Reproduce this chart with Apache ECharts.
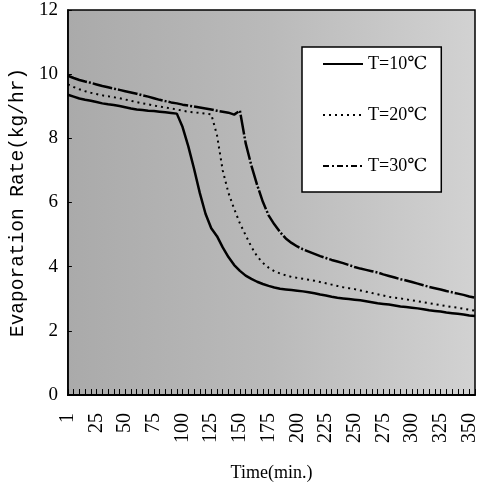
<!DOCTYPE html>
<html>
<head>
<meta charset="utf-8">
<script src="https://cdn.jsdelivr.net/npm/echarts@6/dist/echarts.min.js"></script>
<style>
html,body{margin:0;padding:0;background:#fff;}
#chart{width:481px;height:487px;}
</style>
</head>
<body>
<div id="chart"></div>
<script>
// Time categories (min.)
const minutes = ['1','5','10','15','20','25','30','35','40','45',
  '50','55','60','65','70','75','80','85','90','95',
  '100','105','110','115','120','125','130','135','140','145',
  '150','155','160','165','170','175','180','185','190','195',
  '200','205','210','215','220','225','230','235','240','245',
  '250','255','260','265','270','275','280','285','290','295',
  '300','305','310','315','320','325','330','335','340','345',
  '350','355'];

const seriesNames = ['T=10℃', 'T=20℃', 'T=30℃'];

// T=10℃ (lowest curve)
const t10 = [9.36,9.30,9.24,9.20,9.17,9.13,9.09,9.06,9.04,9.01,
  8.97,8.93,8.90,8.88,8.86,8.85,8.83,8.81,8.79,8.77,
  8.35,7.75,7.05,6.30,5.65,5.20,4.95,4.60,4.30,4.05,
  3.87,3.72,3.62,3.53,3.46,3.40,3.35,3.31,3.29,3.27,
  3.25,3.23,3.20,3.17,3.13,3.10,3.06,3.03,3.01,2.99,
  2.97,2.95,2.92,2.89,2.86,2.84,2.82,2.79,2.76,2.74,
  2.72,2.70,2.67,2.64,2.62,2.60,2.57,2.55,2.53,2.51,
  2.48,2.46];

// T=20℃ (dotted, middle curve)
const t20 = [9.68,9.60,9.53,9.47,9.42,9.38,9.34,9.31,9.28,9.25,
  9.21,9.17,9.13,9.09,9.06,9.02,8.99,8.96,8.93,8.90,
  8.86,8.83,8.81,8.79,8.77,8.75,8.10,7.00,6.30,5.80,
  5.35,4.98,4.62,4.32,4.12,3.97,3.86,3.79,3.73,3.68,
  3.65,3.62,3.59,3.56,3.52,3.48,3.44,3.40,3.36,3.33,
  3.30,3.26,3.22,3.18,3.14,3.10,3.06,3.03,3.01,2.98,
  2.95,2.92,2.89,2.86,2.83,2.80,2.77,2.74,2.72,2.69,
  2.66,2.63];

// T=30℃ (upper curve)
const t30 = [9.95,9.88,9.82,9.77,9.73,9.68,9.63,9.59,9.55,9.51,
  9.47,9.43,9.39,9.34,9.30,9.25,9.20,9.16,9.12,9.09,
  9.05,9.02,8.99,8.96,8.93,8.90,8.86,8.83,8.80,8.74,
  8.86,7.85,7.15,6.55,6.02,5.60,5.32,5.08,4.88,4.74,
  4.63,4.54,4.47,4.40,4.33,4.27,4.21,4.16,4.11,4.05,
  3.99,3.94,3.90,3.86,3.82,3.76,3.71,3.66,3.61,3.57,
  3.52,3.47,3.42,3.37,3.33,3.29,3.24,3.20,3.16,3.12,
  3.07,3.03];

const yTicks = {min: 0, max: 12, interval: 2};

const serif = '"Liberation Serif", "DejaVu Serif", serif';
const chart = echarts.init(document.getElementById('chart'), null, {renderer: 'canvas'});

chart.setOption({
  animation: false,
  backgroundColor: '#ffffff',
  grid: {
    left: 63, right: 6, top: 10, bottom: 86,
    show: true,
    borderColor: '#000', borderWidth: 1.5,
    backgroundColor: {
      type: 'linear', x: 0, y: 0, x2: 1, y2: 0,
      colorStops: [
        {offset: 0, color: '#aaaaaa'},
        {offset: 0.5, color: '#bababa'},
        {offset: 1, color: '#d2d2d2'}
      ]
    }
  },
  legend: {
    left: 302, top: 47,
    orient: 'vertical',
    itemWidth: 40, itemHeight: 14, itemGap: 33,
    padding: [8, 14, 17, 20],
    backgroundColor: '#fff',
    borderColor: '#000', borderWidth: 1.5, borderRadius: 0,
    itemStyle: {opacity: 0, borderWidth: 0},
    textStyle: {fontFamily: serif, fontSize: 18, color: '#000', lineHeight: 14},
    data: [
      {name: seriesNames[0]},
      {name: seriesNames[1]},
      {name: seriesNames[2], lineStyle: {type: [6, 3, 2, 3]}}
    ]
  },
  xAxis: {
    type: 'category',
    data: minutes,
    boundaryGap: false,
    name: 'Time(min.)',
    nameLocation: 'middle',
    nameGap: 69,
    nameTextStyle: {fontFamily: serif, fontSize: 18, color: '#000'},
    axisLine: {lineStyle: {color: '#000', width: 2}},
    axisTick: {show: true, inside: true, interval: 0, length: 6, lineStyle: {color: '#000', width: 1}},
    axisLabel: {interval: 4, rotate: 90, margin: 18, fontFamily: serif, fontSize: 20, color: '#000'},
    splitLine: {show: false}
  },
  yAxis: {
    type: 'value',
    min: yTicks.min, max: yTicks.max, interval: yTicks.interval,
    name: 'Evaporation Rate(kg/hr)',
    nameLocation: 'middle',
    nameGap: 37,
    nameRotate: 90,
    nameTextStyle: {fontFamily: '"Liberation Mono", monospace', fontSize: 19.5, color: '#000'},
    axisLine: {show: true, lineStyle: {color: '#000', width: 1.5}},
    axisTick: {show: true, inside: true, length: 4, lineStyle: {color: '#000'}},
    axisLabel: {margin: 10, fontFamily: serif, fontSize: 19, color: '#000'},
    splitLine: {show: false}
  },
  series: [
    {name: seriesNames[0], type: 'line', data: t10, symbol: 'none',
     lineStyle: {color: '#000', width: 2.5, type: 'solid'}, itemStyle: {color: '#000'}},
    {name: seriesNames[1], type: 'line', data: t20, symbol: 'none',
     lineStyle: {color: '#000', width: 2, type: [2, 4]}, itemStyle: {color: '#000'}},
    {name: seriesNames[2], type: 'line', data: t30, symbol: 'none',
     lineStyle: {color: '#000', width: 2.5, type: [20, 2, 2, 2]}, itemStyle: {color: '#000'}}
  ]
});
</script>
</body>
</html>
